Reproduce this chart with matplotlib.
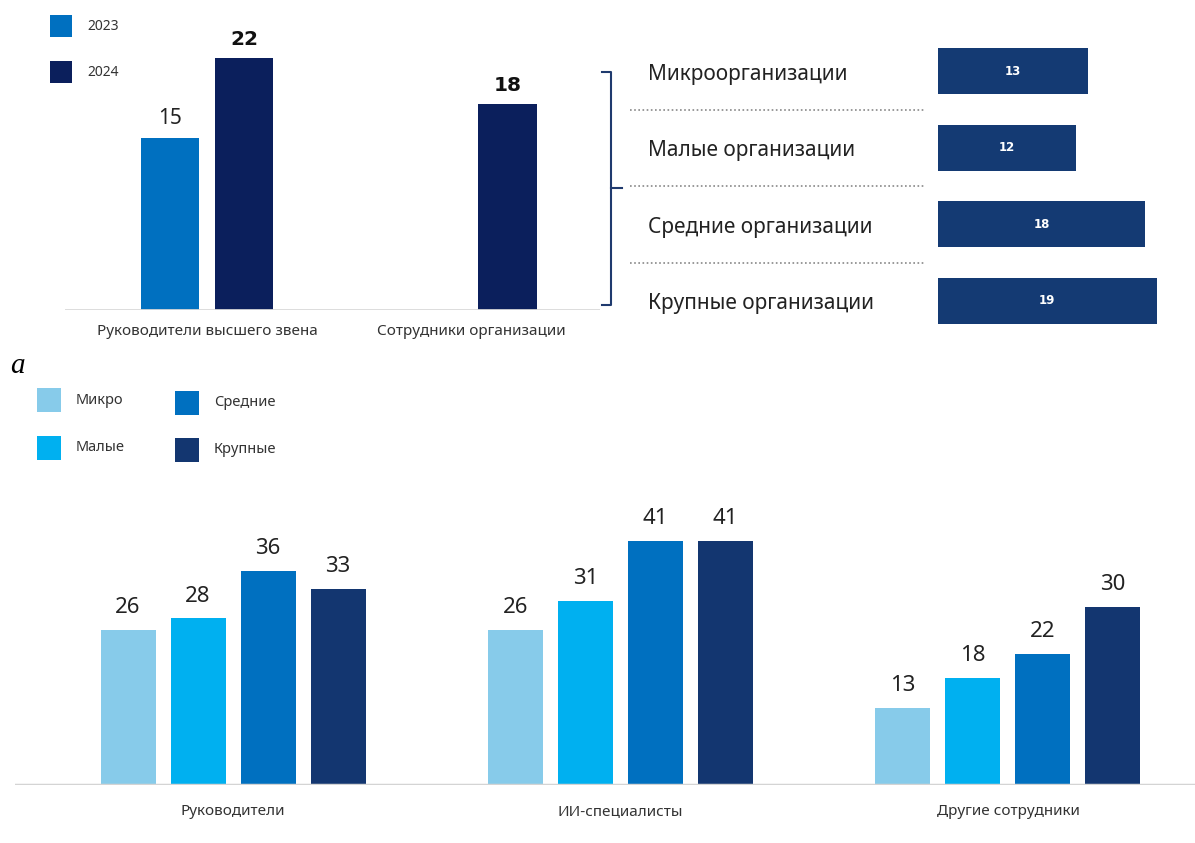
import numpy as np
import matplotlib
matplotlib.use('Agg')
import matplotlib.pyplot as plt
from matplotlib.patches import Rectangle
from matplotlib.lines import Line2D
import matplotlib.transforms as mtransforms

plt.rcParams['font.family'] = ['Noto Sans', 'DejaVu Sans']

# --- data ---
top_cats = ['Руководители высшего звена', 'Сотрудники организации']
top_2023 = [15, np.nan]
top_2024 = [22, 18]
top_years = ['2023', '2024']

size_cats = ['Микроорганизации', 'Малые организации', 'Средние организации', 'Крупные организации']
size_vals = [13, 12, 18, 19]

bot_cats = ['Руководители', 'ИИ-специалисты', 'Другие сотрудники']
bot_series = ['Микро', 'Малые', 'Средние', 'Крупные']
bot_micro = [26, 26, 13]
bot_small = [28, 31, 18]
bot_mid = [36, 41, 22]
bot_large = [33, 41, 30]

# colours
c2023 = '#0070C0'
c2024 = '#0B1F5C'
c_size = '#143A73'
bot_colors = ['#87CBEA', '#00B0F0', '#0070C0', '#133670']
bold_font = ['DejaVu Sans']

W, H = 1195, 843
fig = plt.figure(figsize=(W / 100, H / 100), dpi=100)


def px_axes(x0, y0, x1, y1):
    # pixel box (top-left origin) -> figure axes
    return fig.add_axes([x0 / W, 1 - y1 / H, (x1 - x0) / W, (y1 - y0) / H])


def clean(ax):
    for s in ax.spines.values():
        s.set_visible(False)
    ax.set_yticks([])
    ax.tick_params(length=0)


def legend_box(x, y, size, color, label, fs):
    fig.add_artist(Rectangle((x / W, 1 - (y + size) / H), size / W, size / H,
                             transform=fig.transFigure, color=color, lw=0))
    fig.text((x + size + 15) / W, 1 - (y + size / 2) / H, label, fontsize=fs,
             va='center', ha='left', color='#333333')


# --- top left: 2023 / 2024 ---
ax1 = px_axes(65, 12, 600, 310)
clean(ax1)
x = np.arange(len(top_cats))
off = 0.14
bw = 0.223
ax1.bar(x - off, top_2023, bw, color=c2023)
ax1.bar(x + off, top_2024, bw, color=c2024)
for i in range(len(x)):
    if not np.isnan(top_2023[i]):
        ax1.text(x[i] - off, top_2023[i] + 0.8, str(top_2023[i]), ha='center', va='bottom',
                 fontsize=15, color='#222222')
    ax1.text(x[i] + off, top_2024[i] + 0.8, str(top_2024[i]), ha='center', va='bottom',
             fontsize=14.5, fontweight='bold', family=bold_font, color='#111111')
ax1.set_xlim(-0.538, 1.489)
ax1.set_ylim(0, 26)
ax1.set_xticks(x)
ax1.set_xticklabels(top_cats, fontsize=11, color='#333333')
ax1.tick_params(axis='x', pad=10)
ax1.axhline(0, color='#d9d9d9', lw=2)

legend_box(50, 15, 22, c2023, top_years[0], 10)
legend_box(50, 61, 22, c2024, top_years[1], 10)

# bracket
br = [(602, 72), (611, 72), (611, 305), (602, 305)]
fig.add_artist(Line2D([p[0] / W for p in br], [1 - p[1] / H for p in br],
                      transform=fig.transFigure, color='#1F3A6E', lw=1.5))
fig.add_artist(Line2D([611 / W, 622 / W], [1 - 188 / H, 1 - 188 / H],
                      transform=fig.transFigure, color='#1F3A6E', lw=1.5))

# --- top right: by size ---
ax2 = px_axes(938, 33, 1190, 339)
clean(ax2)
ax2.set_xticks([])
y = np.arange(len(size_cats))
ax2.barh(y, size_vals, 0.6, color=c_size)
ax2.set_ylim(3.5, -0.5)
ax2.set_xlim(0, 252 / 11.5)
for i, v in enumerate(size_vals):
    ax2.text(v / 2, y[i], str(v), ha='center', va='center', color='white',
             fontsize=8.5, fontweight='bold', family=bold_font)
tr = mtransforms.blended_transform_factory(fig.transFigure, ax2.transData)
for i, c in enumerate(size_cats):
    fig.text(648 / W, 0, c, transform=tr, fontsize=15, va='center', ha='left',
             color='#222222').set_y(y[i] + 0.04)
for yy in y[:-1] + 0.5:
    fig.add_artist(Line2D([630 / W, 925 / W], [yy, yy], transform=tr,
                          color='#888888', lw=1.2, ls=(0, (1, 1.5))))

# label a
fig.text(10 / W, 1 - 366 / H, 'a', fontsize=21, family='Liberation Serif',
         style='italic', va='center', ha='left')

# --- bottom: by role and size ---
ax3 = px_axes(15, 480, 1195, 785)
clean(ax3)
xb = np.arange(len(bot_cats))
step = 70 / 387.5
bwb = 55 / 387.5
for k, vals in enumerate([bot_micro, bot_small, bot_mid, bot_large]):
    pos = xb + (k - 1.5) * step
    ax3.bar(pos, vals, bwb, color=bot_colors[k])
    for p, v in zip(pos, vals):
        ax3.text(p, v + 2.0, str(v), ha='center', va='bottom', fontsize=16, color='#222222')
ax3.set_xlim(-0.5626, 2.4826)
ax3.set_ylim(0, 305 / 5.95)
ax3.set_xticks(xb)
ax3.set_xticklabels(bot_cats, fontsize=11, color='#333333')
ax3.tick_params(axis='x', pad=14)
ax3.axhline(0, color='#d4d4d4', lw=2.5)

legend_box(37, 388, 24, bot_colors[0], bot_series[0], 10.5)
legend_box(37, 436, 24, bot_colors[1], bot_series[1], 10.5)
legend_box(175, 391, 24, bot_colors[2], bot_series[2], 10.5)
legend_box(175, 438, 24, bot_colors[3], bot_series[3], 10.5)

fig.savefig('out.png', dpi=100)
